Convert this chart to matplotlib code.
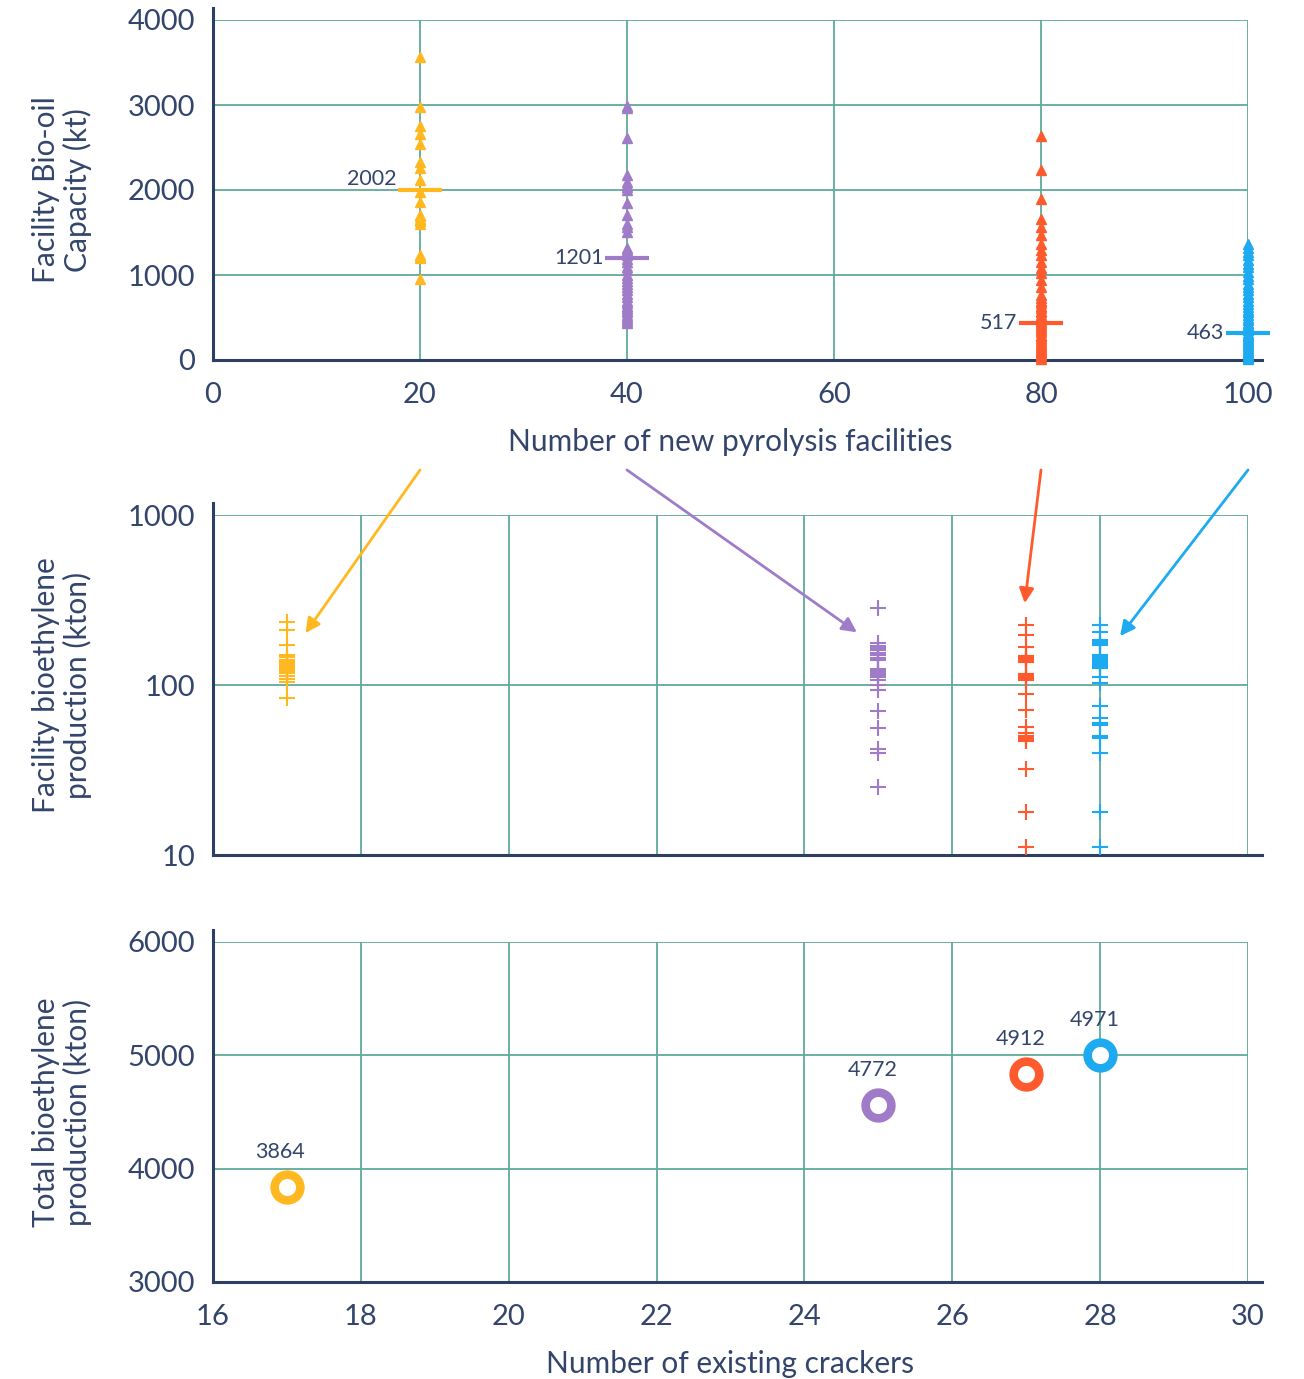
import matplotlib
matplotlib.use("Agg")
import matplotlib.pyplot as plt

plt.rcParams['font.family'] = ['Lato', 'DejaVu Sans']

# ---------------- data ----------------
colors = ['#FFB81F', '#A07CC8', '#FF5A2E', '#1EAAF0']

# top panel: number of new pyrolysis facilities vs facility bio-oil capacity (kt)
n_facilities = [20, 40, 80, 100]
cap_20 = [3570, 2980, 2750, 2660, 2540, 2330, 2255, 2120, 1980, 1855,
          1705, 1690, 1660, 1645, 1630, 1600, 1235, 1215, 1195, 955]
cap_40 = [2990, 2960, 2610, 2180, 2090, 2060, 2030, 2000, 1850, 1710,
          1600, 1560, 1510, 1320, 1290, 1260, 1230, 1190, 1150, 1100,
          1060, 1000, 960, 930, 900, 860, 820, 780, 740, 700,
          670, 640, 610, 590, 560, 530, 510, 480, 460, 440]
cap_80 = [2640, 2240, 1890, 1660, 1560, 1470, 1370, 1290, 1230, 1150,
          1080, 1020, 940, 860, 760, 730, 700, 670, 640, 610,
          580, 560, 530, 500, 470, 450, 420, 400, 380, 350,
          330, 300, 280, 260, 240, 210, 190, 170, 150, 130,
          110, 90, 70, 50, 30, 15]
cap_100 = [1370, 1320, 1270, 1230, 1180, 1130, 1090, 1040, 990, 950,
           900, 860, 820, 780, 740, 700, 660, 620, 590, 560,
           530, 500, 470, 440, 410, 380, 350, 320, 300, 280,
           260, 240, 220, 200, 180, 160, 140, 120, 100, 80,
           60, 40, 20, 10]
capacities = [cap_20, cap_40, cap_80, cap_100]
mean_lines = [1995, 1195, 440, 320]
mean_labels = ['2002', '1201', '517', '463']

# middle panel: number of existing crackers vs facility bioethylene production (kton)
n_crackers = [17, 25, 27, 28]
prod_17 = [236, 211, 172, 150, 146, 140, 137, 134, 131, 127, 124, 121,
           118, 113, 108, 104, 84]
prod_25 = [283, 177, 170, 165, 163, 160, 155, 152, 150, 145, 140, 125,
           122, 120, 118, 115, 112, 107, 100, 94, 70, 56, 42, 40, 25]
prod_27 = [225, 197, 168, 148, 145, 143, 142, 140, 139, 137, 116, 114,
           113, 111, 109, 107, 89, 71, 57, 52, 50, 49, 48, 47, 32, 18, 11.2]
prod_28 = [225, 206, 184, 180, 178, 174, 172, 150, 148, 145, 140, 138,
           136, 133, 129, 127, 126, 112, 103, 75, 64, 60, 58, 50, 49, 40,
           18, 11.2]
productions = [prod_17, prod_25, prod_27, prod_28]

# bottom panel: total bioethylene production (kton)
total_prod = [3838, 4562, 4835, 5003]
total_labels = ['3864', '4772', '4912', '4971']

# ---------------- style ----------------
W, H = 1304, 1379
fig = plt.figure(figsize=(W / 100, H / 100), dpi=100)
navy = '#2E3F66'
txt = '#33456B'
grid_c = '#5FAA9B'
TICK_FS = 21
LAB_FS = 21.5
ANN_FS = 15.5

def px_axes(left, top, right, bottom):
    return fig.add_axes([left / W, 1 - bottom / H, (right - left) / W, (bottom - top) / H])

ax1 = px_axes(213, 20, 1248, 360)
ax2 = px_axes(213, 515, 1248, 855)
ax3 = px_axes(213, 942, 1248, 1282)

def style(ax, xext, yext):
    for s in ['top', 'right']:
        ax.spines[s].set_visible(False)
    for s in ['left', 'bottom']:
        ax.spines[s].set_color(navy)
        ax.spines[s].set_linewidth(2.2)
    ax.spines['bottom'].set_bounds(ax.get_xlim()[0], xext)
    ax.spines['left'].set_bounds(ax.get_ylim()[0], yext)
    ax.grid(True, color=grid_c, linewidth=1.3)
    ax.set_axisbelow(True)
    ax.tick_params(length=0, labelsize=TICK_FS, colors=txt)
    ax.tick_params(axis='x', pad=16)
    ax.tick_params(axis='y', pad=13)

def ylab(ax, text):
    ax.set_ylabel(text, fontsize=LAB_FS, color=txt, linespacing=1.15, va='center')
    ax.yaxis.set_label_coords(-0.146, 0.5)

# top panel
ax1.set_xlim(0, 100)
ax1.set_ylim(0, 4000)
ax1.set_xticks([0, 20, 40, 60, 80, 100])
ax1.set_yticks([0, 1000, 2000, 3000, 4000])
style(ax1, 101.35, 4141)
for i, (n, caps) in enumerate(zip(n_facilities, capacities)):
    ax1.plot([n] * len(caps), caps, linestyle='none', marker='^', markersize=7.5,
             color=colors[i], clip_on=False, zorder=3)
    ax1.plot([n], [mean_lines[i]], marker='_', markersize=31, markeredgewidth=3,
             color=colors[i], clip_on=False, zorder=4)
    dy = 8 if i == 0 else 0
    ax1.annotate(mean_labels[i], (n, mean_lines[i]), xytext=(-17, dy),
                 textcoords='offset points', ha='right', va='center',
                 fontsize=ANN_FS, color=txt, zorder=5)
ax1.set_xlabel('Number of new pyrolysis facilities', fontsize=LAB_FS, color=txt, labelpad=14)
ylab(ax1, 'Facility Bio-oil\nCapacity (kt)')

# middle panel
ax2.set_yscale('log')
ax2.set_xlim(16, 30)
ax2.set_ylim(10, 1000)
ax2.set_xticks([16, 18, 20, 22, 24, 26, 28, 30])
ax2.set_yticks([10, 100, 1000])
ax2.set_yticklabels(['10', '100', '1000'])
ax2.yaxis.set_minor_locator(matplotlib.ticker.NullLocator())
style(ax2, 30.19, 1176)
ax2.tick_params(axis='x', labelbottom=False)
for i, (n, prods) in enumerate(zip(n_crackers, productions)):
    ax2.plot([n] * len(prods), prods, linestyle='none', marker='+', markersize=12,
             markeredgewidth=1.5, color=colors[i], clip_on=False, zorder=3)
ylab(ax2, 'Facility bioethylene\nproduction (kton)')

# bottom panel
ax3.set_xlim(16, 30)
ax3.set_ylim(3000, 6000)
ax3.set_xticks([16, 18, 20, 22, 24, 26, 28, 30])
ax3.set_yticks([3000, 4000, 5000, 6000])
style(ax3, 30.19, 6106)
for i, (n, tot) in enumerate(zip(n_crackers, total_prod)):
    ax3.plot([n], [tot], marker='o', markersize=18.5, markeredgewidth=6.2,
             markerfacecolor='white', markeredgecolor=colors[i], zorder=3, clip_on=False)
    ax3.annotate(total_labels[i], (n, tot), xytext=(-5 if i == 0 else -4, 25),
                 textcoords='offset points', ha='center', va='center',
                 fontsize=ANN_FS, color=txt)
ax3.set_xlabel('Number of existing crackers', fontsize=LAB_FS, color=txt, labelpad=14)
ylab(ax3, 'Total bioethylene\nproduction (kton)')

# connecting arrows (top facility groups -> middle cracker groups)
arrow_start_y = -1294
arrow_ends = [(17.25, 202), (24.71, 204), (26.98, 303), (28.27, 194)]
for i, n in enumerate(n_facilities):
    ax2.annotate('', xy=arrow_ends[i], xycoords='data',
                 xytext=(n, arrow_start_y), textcoords=ax1.transData,
                 annotation_clip=False, zorder=10,
                 arrowprops=dict(arrowstyle='-|>', mutation_scale=22, linewidth=2,
                                 color=colors[i], shrinkA=0, shrinkB=0))

fig.savefig('out.png', dpi=100)
